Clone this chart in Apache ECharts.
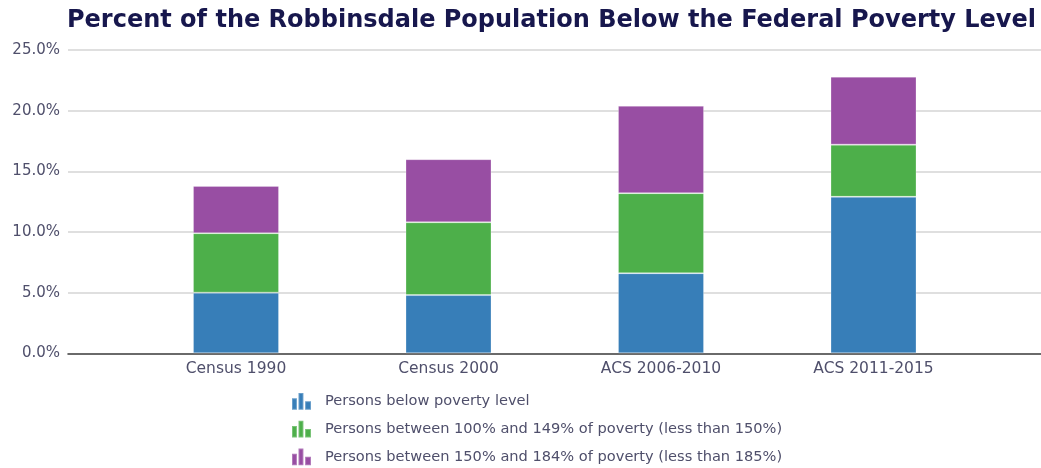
<!DOCTYPE html>
<html>
<head>
<meta charset="utf-8">
<script src="https://cdn.jsdelivr.net/npm/echarts@6/dist/echarts.min.js"></script>
<style>
html,body{margin:0;padding:0;background:#fff;}
#chart{width:1041px;height:468px;}
</style>
</head>
<body>
<div id="chart"></div>
<script>
const titleText = 'Percent of the Robbinsdale Population Below the Federal Poverty Level';
const categories = ['Census 1990', 'Census 2000', 'ACS 2006-2010', 'ACS 2011-2015'];
const seriesNames = [
  'Persons below poverty level',
  'Persons between 100% and 149% of poverty (less than 150%)',
  'Persons between 150% and 184% of poverty (less than 185%)'
];
const belowPoverty = [5.0, 4.8, 6.6, 12.9];
const between100and149 = [4.9, 6.0, 6.6, 4.3];
const between150and184 = [3.9, 5.2, 7.2, 5.6];
const colors = ['#377eb8', '#4daf4a', '#984ea3'];

const FONT = 'DejaVu Sans';
const LABEL = '#4f4f6b';
const icon = 'path://M0,5.4h5v11.6h-5z M6.6,0h5v17h-5z M13.3,8.4h6v8.6h-6z';

const chart = echarts.init(document.getElementById('chart'));
const valuesList = [belowPoverty, between100and149, between150and184];

chart.setOption({
  animation: false,
  title: {
    text: titleText,
    left: 67,
    top: 9,
    padding: 0,
    textStyle: {fontFamily: FONT, fontWeight: 'bold', fontSize: 24, color: '#17174d'}
  },
  legend: {
    orient: 'vertical',
    left: 291,
    top: 392,
    height: 120,
    padding: 0,
    itemWidth: 19,
    itemHeight: 17,
    itemGap: 9,
    data: seriesNames.map((n, i) => ({name: n, icon: icon})),
    textStyle: {fontFamily: FONT, fontSize: 14.6, color: LABEL, padding: [0, 0, 0, 9]}
  },
  grid: [
    {left: 68, right: 0, top: 50, bottom: 114.7, containLabel: false},
    {left: 129.75, right: 61.25, top: 50, bottom: 114.7, containLabel: false}
  ],
  xAxis: [
    {
      type: 'category', gridIndex: 0, data: [''],
      axisLine: {show: true, lineStyle: {color: '#444', width: 1.6}},
      axisTick: {show: false}, axisLabel: {show: false}, splitLine: {show: false}
    },
    {
      type: 'category', gridIndex: 1, data: categories,
      axisLine: {show: false}, axisTick: {show: false},
      axisLabel: {fontFamily: FONT, fontSize: 15.5, color: LABEL, margin: 8}
    }
  ],
  yAxis: [
    {
      type: 'value', gridIndex: 0, min: 0, max: 25, interval: 5,
      axisLine: {show: false}, axisTick: {show: false},
      axisLabel: {fontFamily: FONT, fontSize: 15, color: LABEL, margin: 8,
        formatter: v => v.toFixed(1) + '%'},
      splitLine: {lineStyle: {color: '#d4d4d4', width: 1.5}}
    },
    {
      type: 'value', gridIndex: 1, min: 0, max: 25, interval: 5,
      axisLine: {show: false}, axisTick: {show: false},
      axisLabel: {show: false}, splitLine: {show: false}
    }
  ],
  series: valuesList.map((vals, i) => ({
    name: seriesNames[i],
    type: 'bar',
    stack: 'total',
    xAxisIndex: 1,
    yAxisIndex: 1,
    barWidth: 86,
    data: vals,
    itemStyle: {color: colors[i], borderColor: 'rgba(255,255,255,0.25)', borderWidth: 1}
  }))
});
</script>
</body>
</html>
